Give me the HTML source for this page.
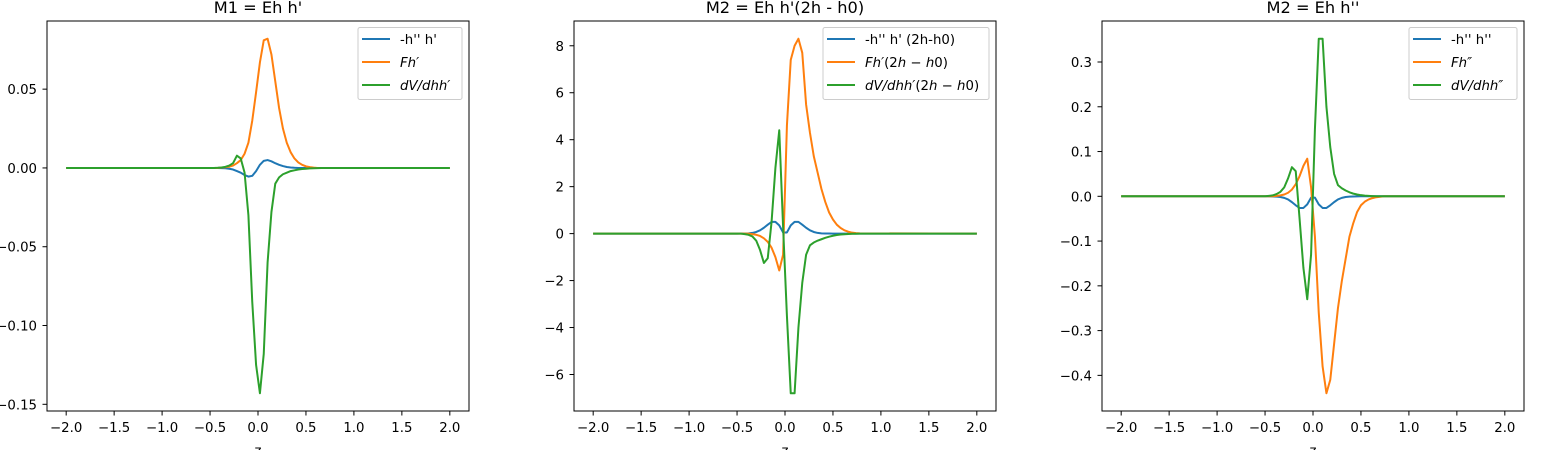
<!DOCTYPE html>
<html><head><meta charset="utf-8">
<style>
html,body{margin:0;padding:0;background:#fff;}
svg{display:block;font-family:"DejaVu Sans","Liberation Sans",sans-serif;}
</style></head>
<body>
<svg id="fig" width="1550" height="450" xmlns="http://www.w3.org/2000/svg"></svg>
<script>
// shared x sample positions (z)
const zVals = [-2.0,-0.62,-0.58,-0.54,-0.5,-0.46,-0.42,-0.38,-0.34,-0.3,-0.26,-0.22,-0.18,-0.14,-0.1,-0.06,-0.02,0.02,0.06,0.1,0.14,0.18,0.22,0.26,0.3,0.34,0.38,0.42,0.46,0.5,0.54,0.58,0.62,0.66,0.7,0.74,0.78,2.0];
const xTicks = [-2.0,-1.5,-1.0,-0.5,0.0,0.5,1.0,1.5,2.0];
const xTickLabels = ["−2.0","−1.5","−1.0","−0.5","0.0","0.5","1.0","1.5","2.0"];

// Plot 1: M1 = Eh h'
const p1Blue = [0,0,0,0,0,0,0,-0.0001,-0.0002,-0.0005,-0.001,-0.002,-0.003,-0.0045,-0.0055,-0.005,-0.002,0.002,0.0045,0.005,0.0042,0.003,0.002,0.0012,0.0006,0.0003,0.0001,0,0,0,0,0,0,0,0,0,0,0];
const p1Orange = [0,0,0,0,0,0,0,0.0002,0.0004,0.0008,0.0015,0.003,0.005,0.009,0.016,0.03,0.048,0.067,0.081,0.082,0.072,0.055,0.038,0.025,0.016,0.01,0.006,0.0035,0.002,0.001,0.0005,0.0002,0,0,0,0,0,0];
const p1Green = [0,0,0,0,0,0,0.0001,0.0003,0.0007,0.0015,0.003,0.0078,0.006,-0.003,-0.03,-0.085,-0.125,-0.143,-0.118,-0.06,-0.028,-0.01,-0.006,-0.004,-0.003,-0.002,-0.0015,-0.001,-0.0007,-0.0005,-0.0003,-0.0002,-0.0001,0,0,0,0,0];
const p1Ticks = [0.05,0.0,-0.05,-0.10,-0.15];
const p1TickLabels = ["0.05","0.00","−0.05","−0.10","−0.15"];

// Plot 2: M2 = Eh h'(2h - h0)
const p2Blue = [0,0,0,0,0,0.002,0.005,0.012,0.03,0.07,0.14,0.25,0.38,0.5,0.5,0.35,0.05,0.05,0.35,0.5,0.5,0.38,0.25,0.14,0.07,0.03,0.012,0.005,0.002,0,0,0,0,0,0,0,0,0];
const p2Orange = [0,0,0,0,0,0,0,0,-0.02,-0.05,-0.1,-0.2,-0.35,-0.6,-1.0,-1.57,-0.9,4.6,7.4,8.0,8.3,7.7,5.5,4.3,3.3,2.6,1.9,1.35,0.9,0.6,0.38,0.24,0.14,0.08,0.04,0.02,0.01,0];
const p2Green = [0,0,0,0,0,0,-0.02,-0.05,-0.12,-0.3,-0.7,-1.25,-1.05,0.5,2.8,4.4,0.3,-3.5,-6.8,-6.8,-4.0,-2.1,-0.9,-0.5,-0.38,-0.3,-0.24,-0.18,-0.13,-0.09,-0.06,-0.04,-0.025,-0.015,-0.008,-0.004,-0.002,0];
const p2Ticks = [8,6,4,2,0,-2,-4,-6];
const p2TickLabels = ["8","6","4","2","0","−2","−4","−6"];

// Plot 3: M2 = Eh h''
const p3Blue = [0,0,0,0,0,-0.0001,-0.0003,-0.0006,-0.0015,-0.0035,-0.007,-0.013,-0.02,-0.026,-0.026,-0.018,-0.003,-0.003,-0.018,-0.026,-0.026,-0.02,-0.013,-0.007,-0.0035,-0.0015,-0.0006,-0.0003,-0.0001,0,0,0,0,0,0,0,0,0];
const p3Orange = [0,0,0,0,0,0,0,0.001,0.002,0.004,0.008,0.015,0.027,0.045,0.068,0.084,0.02,-0.09,-0.26,-0.38,-0.44,-0.41,-0.33,-0.25,-0.19,-0.14,-0.09,-0.06,-0.035,-0.02,-0.012,-0.007,-0.004,-0.002,-0.001,0,0,0];
const p3Green = [0,0,0,0,0,0.001,0.002,0.005,0.01,0.02,0.04,0.065,0.056,-0.05,-0.16,-0.23,-0.13,0.15,0.352,0.352,0.2,0.11,0.05,0.025,0.018,0.013,0.009,0.006,0.004,0.0025,0.0015,0.001,0.0005,0,0,0,0,0];
const p3Ticks = [0.3,0.2,0.1,0.0,-0.1,-0.2,-0.3,-0.4];
const p3TickLabels = ["0.3","0.2","0.1","0.0","−0.1","−0.2","−0.3","−0.4"];

const NS = "http://www.w3.org/2000/svg";
const svg = document.getElementById('fig');
const colors = ["#1f77b4","#ff7f0e","#2ca02c"];
function mk(tag, attrs, parent){const e=document.createElementNS(NS,tag);for(const k in attrs)e.setAttribute(k,attrs[k]);(parent||svg).appendChild(e);return e;}

const panels = [
 {left:47, title:"M1 = Eh h'", series:[p1Blue,p1Orange,p1Green], ticks:p1Ticks, labels:p1TickLabels,
  legend:{x:358,w:104,lines:[[["-h'' h'",false]],[["Fh′",true]],[["dV/dhh′",true]]]}},
 {left:574, title:"M2 = Eh h'(2h - h0)", series:[p2Blue,p2Orange,p2Green], ticks:p2Ticks, labels:p2TickLabels,
  legend:{x:823,w:166,lines:[[["-h'' h' (2h-h0)",false]],[["Fh′",true],["(2",false],["h",true],[" − ",false],["h",true],["0)",false]],[["dV/dhh′",true],["(2",false],["h",true],[" − ",false],["h",true],["0)",false]]]}},
 {left:1102, title:"M2 = Eh h''", series:[p3Blue,p3Orange,p3Green], ticks:p3Ticks, labels:p3TickLabels,
  legend:{x:1409,w:108,lines:[[["-h'' h''",false]],[["Fh″",true]],[["dV/dhh″",true]]]}}
];
const TOP=21, H=390, W=422, FS=13.3;

panels.forEach((p,pi)=>{
  const g = mk('g',{});
  
  
  let mn=Infinity,mx=-Infinity;
  p.series.forEach(s=>s.forEach(v=>{mn=Math.min(mn,v);mx=Math.max(mx,v);}));
  const m=(mx-mn)*0.05; const y0=mn-m, y1=mx+m;
  const xs = v=> p.left + (v+2.2)/4.4*W;
  const ys = v=> TOP + (y1-v)/(y1-y0)*H;
  p.series.forEach((s,si)=>{
    const pts = s.map((v,i)=>xs(zVals[i]).toFixed(2)+","+ys(v).toFixed(2)).join(" ");
    const pl = mk('polyline',{points:pts,fill:"none",stroke:colors[si],"stroke-width":2,"stroke-linejoin":"round"},g);
    
    
  });
  const fr = mk('rect',{x:p.left,y:TOP,width:W,height:H,fill:"none",stroke:"#000","stroke-width":1},g);
  
  
  xTicks.forEach((t,i)=>{
    const x=xs(t);
    mk('line',{x1:x,x2:x,y1:TOP+H,y2:TOP+H+4.5,stroke:"#000","stroke-width":1},g);
    const tx = mk('text',{x:x,y:TOP+H+21,"font-size":FS,"text-anchor":"middle",fill:"#000"},g);
    tx.textContent=xTickLabels[i];
    
    
  });
  p.ticks.forEach((t,i)=>{
    const y=ys(t);
    mk('line',{x1:p.left,x2:p.left-4.5,y1:y,y2:y,stroke:"#000","stroke-width":1},g);
    const ty = mk('text',{x:p.left-10,y:y+5,"font-size":FS,"text-anchor":"end",fill:"#000"},g);
    ty.textContent=p.labels[i];
    
    
  });
  const ti = mk('text',{x:p.left+W/2,y:13,"font-size":16.2,"text-anchor":"middle",fill:"#000"},g);
  ti.textContent=p.title;
  
  
  const xl = mk('text',{x:p.left+W/2,y:455,"font-size":FS,"text-anchor":"middle",fill:"#000"},g);
  xl.textContent="z";
  
  
  const L=p.legend;
  const lg = mk('g',{},g);
  
  
  mk('rect',{x:L.x,y:27.5,width:L.w,height:72,rx:2,fill:"#fff","fill-opacity":0.8,stroke:"#ccc","stroke-width":1},lg);
  L.lines.forEach((parts,k)=>{
    const yy=39+k*23;
    const le = mk('g',{},lg);
    
    
    mk('line',{x1:L.x+4,x2:L.x+32,y1:yy,y2:yy,stroke:colors[k],"stroke-width":2},le);
    const t = mk('text',{x:L.x+42,y:yy+5,"font-size":FS,fill:"#000"},le);
    parts.forEach(([s,it])=>{const ts=mk('tspan',{},t);if(it)ts.setAttribute('font-style','italic');ts.textContent=s;});
  });
});
</script>
</body></html>
